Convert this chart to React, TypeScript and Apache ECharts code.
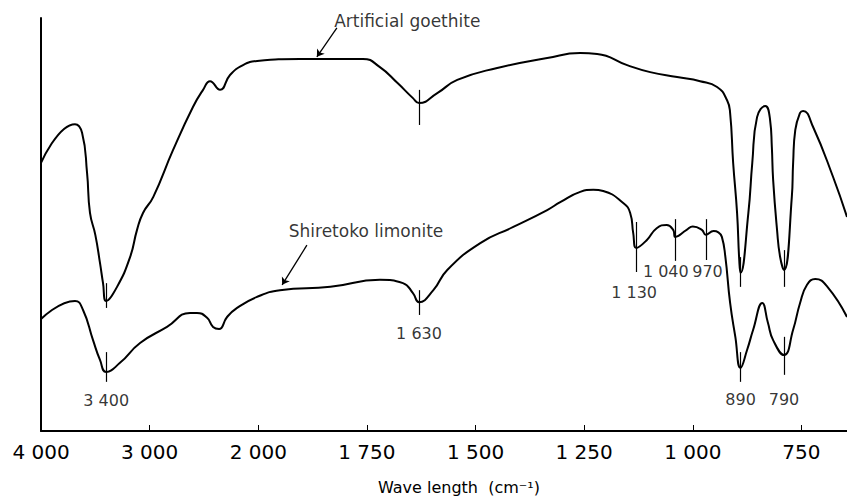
import React, { useEffect, useRef } from "react";
import * as echarts from "echarts";

// Wavenumber axis tick labels (piecewise scale: 1000 cm-1 steps above 2000, 250 below)
const tickLabels = ["4 000", "3 000", "2 000", "1 750", "1 500", "1 250", "1 000", "750"];

// Artificial goethite trace (wavenumber, relative transmittance)
const goethiteWn = [4000, 3687, 3622, 3576, 3549, 3500, 3457, 3429, 3400, 3300, 3180, 3116, 3061, 2966, 2785, 2600, 2508, 2444, 2352, 2260, 2140, 2010, 1904, 1759, 1720, 1680, 1644, 1630, 1588, 1542, 1450, 1335, 1259, 1220, 1151, 1098, 1036, 983, 944, 921, 914, 907, 898, 893, 890, 872, 863, 852, 833, 822, 818, 815, 806, 799, 790, 772, 769, 764, 753, 746, 723, 677, 645];
const goethiteT = [64.9, 74.3, 72.2, 62.5, 52.8, 47.5, 40.7, 35.8, 31.5, 34.9, 42.1, 48.7, 52.8, 56.7, 68.0, 78.5, 82.6, 84.7, 82.6, 86.2, 88.6, 89.6, 90.1, 90.1, 88.1, 84.3, 80.6, 79.4, 81.8, 85.0, 87.9, 90.3, 91.5, 91.3, 88.6, 86.9, 85.7, 84.7, 83.3, 80.1, 77.0, 64.9, 52.8, 41.4, 38.3, 52.8, 64.9, 76.0, 78.7, 75.3, 68.8, 60.8, 48.7, 42.2, 39.0, 56.7, 64.9, 72.9, 77.0, 77.5, 73.6, 61.5, 51.8];

// Shiretoko limonite trace
const limoniteWn = [4000, 3687, 3613, 3521, 3457, 3400, 3273, 3088, 2840, 2628, 2564, 2471, 2416, 2361, 2287, 2195, 2017, 1950, 1834, 1720, 1667, 1644, 1630, 1597, 1565, 1489, 1413, 1335, 1305, 1259, 1229, 1206, 1160, 1144, 1137, 1130, 1106, 1083, 1060, 1045, 1040, 1014, 1000, 979, 970, 952, 941, 933, 925, 914, 902, 890, 875, 861, 840, 827, 815, 790, 769, 753, 737, 718, 690, 645];
const limoniteT = [27.1, 31.5, 29.3, 22.0, 17.2, 14.3, 16.5, 21.3, 25.2, 28.6, 28.6, 27.4, 25.2, 24.7, 27.6, 29.8, 32.4, 34.1, 34.9, 36.6, 35.8, 33.4, 31.2, 34.1, 39.0, 45.5, 49.4, 53.5, 55.4, 57.9, 58.4, 58.1, 55.2, 52.8, 47.9, 44.3, 46.2, 49.1, 49.9, 48.7, 47.0, 48.7, 49.5, 48.7, 47.5, 48.4, 48.1, 47.0, 42.2, 31.0, 22.8, 15.3, 19.6, 24.5, 31.0, 26.2, 22.0, 18.4, 24.5, 31.0, 35.4, 36.8, 34.9, 27.6];

// Band marks: wavenumber, lower and upper transmittance of the vertical mark
const markWn = [3400, 3400, 1630, 1630, 1130, 1040, 970, 890, 790, 890, 790];
const markLo = [29.8, 11.9, 74.1, 28.1, 38.5, 41.2, 41.4, 34.9, 34.9, 11.9, 13.6];
const markHi = [35.8, 19.1, 82.6, 34.1, 50.6, 51.3, 51.3, 42.1, 43.8, 19.1, 22.8];

// Band labels
const bandText = ["3 400", "1 630", "1 130", "1 040", "970", "890", "790"];
const bandWn = [3400, 1630, 1135, 1062, 966, 890, 790];
const bandT = [7.5, 23.7, 33.6, 38.6, 38.6, 7.7, 7.7];

// Series captions and their pointer arrows
const captionText = ["Artificial goethite", "Shiretoko limonite"];
const captionWn = [1657, 1752];
const captionT = [99.3, 48.4];
const arrowFromWn = [1819, 1888];
const arrowFromT = [97.6, 45.0];
const arrowToWn = [1865, 1945];
const arrowToT = [90.6, 35.4];

const FONT = "DejaVu Sans";

const toPos = (wn: number) => (wn >= 2000 ? (4000 - wn) / 1000 : 2 + (2000 - wn) / 250);

export default function App() {
  const ref = useRef<HTMLDivElement>(null);
  useEffect(() => {
    if (!ref.current) return;
    const chart = echarts.init(ref.current, undefined, { renderer: "svg" });
    const goethite = goethiteWn.map((w, i) => [toPos(w), goethiteT[i]]);
    const limonite = limoniteWn.map((w, i) => [toPos(w), limoniteT[i]]);
    const markLines = markWn.map((w, i) => [
      { coord: [toPos(w), markLo[i]] },
      { coord: [toPos(w), markHi[i]] },
    ]);
    const arrows = arrowFromWn.map((w, i) => [
      { coord: [toPos(w), arrowFromT[i]] },
      { coord: [toPos(arrowToWn[i]), arrowToT[i]] },
    ]);
    const labels = bandText
      .map((t, i) => ({ name: t, value: [toPos(bandWn[i]), bandT[i]], label: { fontSize: 16 } }))
      .concat(captionText.map((t, i) => ({ name: t, value: [toPos(captionWn[i]), captionT[i]], label: { fontSize: 17 } })));

    chart.setOption({
      animation: false,
      backgroundColor: "#fff",
      grid: { left: 41, right: 0, top: 18, bottom: 70, containLabel: false },
      xAxis: {
        type: "value",
        min: 0,
        max: 7.42,
        interval: 1,
        axisLine: { show: true, lineStyle: { color: "#000", width: 2 } },
        axisTick: { show: true, inside: true, length: 6, lineStyle: { color: "#000", width: 1 }, customValues: [1, 2, 3, 4, 5, 6, 7] },
        axisLabel: {
          customValues: [0, 1, 2, 3, 4, 5, 6, 7],
          formatter: (v: number) => (Math.abs(v - Math.round(v)) < 1e-6 ? tickLabels[Math.round(v)] ?? "" : ""),
          color: "#000",
          fontSize: 20,
          fontFamily: FONT,
          margin: 11,
        },
        splitLine: { show: false },
      },
      yAxis: {
        type: "value",
        min: 0,
        max: 100,
        axisLine: { show: true, lineStyle: { color: "#000", width: 2 } },
        axisTick: { show: false },
        axisLabel: { show: false },
        splitLine: { show: false },
      },
      graphic: [
        {
          type: "text",
          left: 378,
          top: 479,
          style: { text: "Wave length  (cm\u207B\u00B9)", fontSize: 16, fontFamily: FONT, fill: "#000" },
        },
      ],
      series: [
        {
          type: "line",
          name: "Artificial goethite",
          data: goethite,
          showSymbol: false,
          smooth: 0.5,
          lineStyle: { color: "#000", width: 2 },
          markLine: {
            silent: true,
            symbol: ["none", "none"],
            label: { show: false },
            lineStyle: { color: "#000", width: 1.2, type: "solid" },
            data: markLines,
          },
        },
        {
          type: "line",
          name: "Shiretoko limonite",
          data: limonite,
          showSymbol: false,
          smooth: 0.5,
          lineStyle: { color: "#000", width: 2 },
          markLine: {
            silent: true,
            symbol: ["none", "arrow"],
            symbolSize: 7,
            label: { show: false },
            lineStyle: { color: "#000", width: 1.3, type: "solid" },
            data: arrows,
          },
        },
        {
          type: "scatter",
          name: "labels",
          data: labels,
          symbolSize: 1,
          itemStyle: { color: "rgba(0,0,0,0)" },
          silent: true,
          label: {
            show: true,
            position: "inside",
            formatter: "{b}",
            color: "#000",
            fontSize: 16,
            fontFamily: FONT,
          },
        },
      ],
    });
    return () => chart.dispose();
  }, []);
  return <div ref={ref} style={{ position: "fixed", left: 0, top: 0, width: 847, height: 501 }} />;
}
